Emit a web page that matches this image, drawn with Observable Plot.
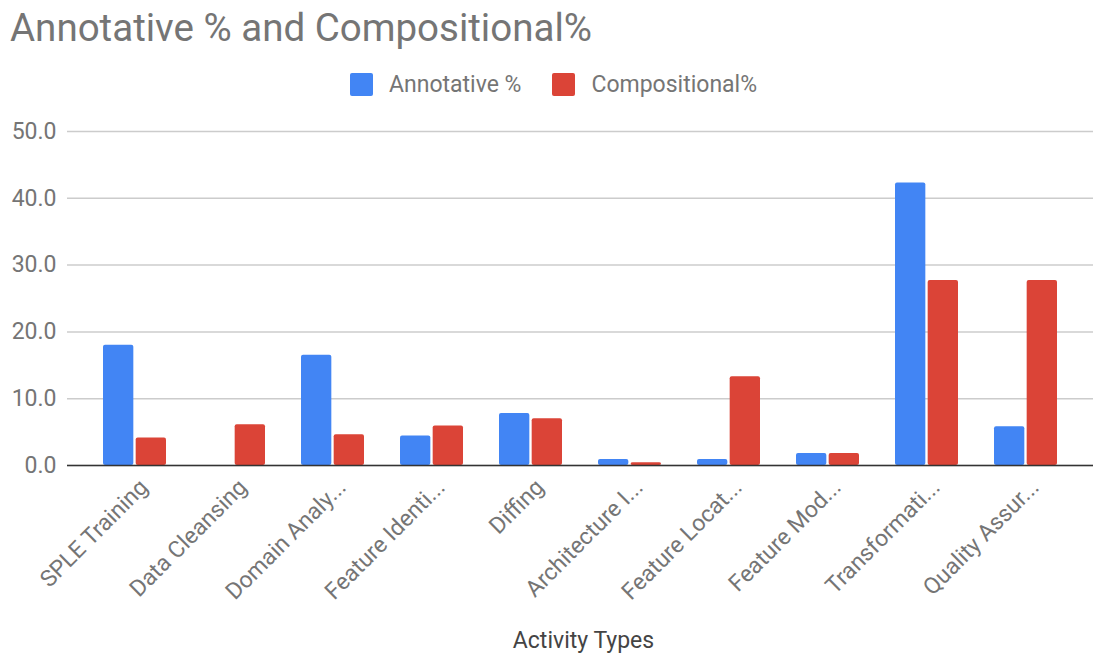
<!DOCTYPE html>
<html>
<head>
<meta charset="utf-8">
<script src="https://cdn.jsdelivr.net/npm/d3@7"></script>
<script src="https://cdn.jsdelivr.net/npm/@observablehq/plot@0.6"></script>
<style>
  html, body { margin: 0; padding: 0; background: #fff; }
  body { width: 1094px; height: 657px; position: relative; overflow: hidden; font-family: Roboto, "Noto Sans", sans-serif; }
  #title { position: absolute; left: 10px; top: 5px; font-size: 38.5px; color: #757575; white-space: nowrap; }
  #legend { position: absolute; left: 350px; top: 71px; display: flex; align-items: center; font-size: 23px; color: #757575; white-space: nowrap; }
  .sw { display: inline-block; width: 23px; height: 23px; border-radius: 2px; margin-right: 16px; }
  .item { display: flex; align-items: center; margin-right: 31px; }
  #chart { position: absolute; left: 0; top: 100px; }
</style>
</head>
<body>
<div id="title">Annotative % and Compositional%</div>
<div id="legend"></div>
<div id="chart"></div>
<script>
const categories = ["SPLE Training", "Data Cleansing", "Domain Analy...", "Feature Identi...", "Diffing",
  "Architecture I...", "Feature Locat...", "Feature Mod...", "Transformati...", "Quality Assur..."];
const seriesNames = ["Annotative %", "Compositional%"];
const annotative = [18.0, 0.0, 16.5, 4.4, 7.8, 0.9, 0.9, 1.8, 42.3, 5.8];
const compositional = [4.1, 6.1, 4.6, 5.9, 7.0, 0.4, 13.3, 1.8, 27.7, 27.7];
const colors = ["#4285F4", "#DB4437"];
const yTicks = [0, 10, 20, 30, 40, 50];
const xTitle = "Activity Types";

const annData = categories.map((c, i) => ({cat: c, series: seriesNames[0], value: annotative[i]}));
const compData = categories.map((c, i) => ({cat: c, series: seriesNames[1], value: compositional[i]}));

// legend
const legend = document.getElementById("legend");
seriesNames.forEach((s, i) => {
  const it = document.createElement("span");
  it.className = "item";
  const sw = document.createElement("span");
  sw.className = "sw";
  sw.style.background = colors[i];
  it.appendChild(sw);
  it.appendChild(document.createTextNode(s));
  legend.appendChild(it);
});

const W = 1094, mL = 67, mR = 1, padIn = 0.363, padOut = 0.34;
const band = d3.scaleBand().domain(categories).range([mL, W - mR]).paddingInner(padIn).paddingOuter(padOut);
const half = band.bandwidth() / 2;
const gap = 1;

const chart = Plot.plot({
  width: W,
  height: 557,
  marginLeft: mL,
  marginRight: mR,
  marginTop: 31,
  marginBottom: 192,
  style: {fontFamily: "Roboto, 'Noto Sans', sans-serif", background: "transparent"},
  x: {domain: categories, paddingInner: padIn, paddingOuter: padOut, label: null},
  y: {domain: [0, 50], label: null},
  color: {domain: seriesNames, range: colors},
  marks: [
    Plot.gridY(yTicks, {stroke: "#cccccc", strokeOpacity: 1, strokeWidth: 1.5}),
    Plot.barY(annData, {x: "cat", y: "value", fill: "series", insetRight: half + gap, rx: 2}),
    Plot.barY(compData, {x: "cat", y: "value", fill: "series", insetLeft: half + gap, rx: 2}),
    Plot.ruleY([0], {stroke: "#333333", strokeWidth: 1.5}),
    Plot.axisY({ticks: yTicks, tickFormat: d => d.toFixed(1), tickSize: 0, tickPadding: 11, fontSize: 23, fill: "#757575", label: null}),
    Plot.axisX({tickRotate: -45, tickSize: 0, tickPadding: 10, dx: 9, dy: 8, fontSize: 23, fill: "#757575", label: null}),
    Plot.text([xTitle], {frameAnchor: "bottom", lineAnchor: "middle", text: d => d, dx: 3, dy: 175, fontSize: 23, fill: "#444444"})
  ]
});
document.getElementById("chart").appendChild(chart);
</script>
</body>
</html>
